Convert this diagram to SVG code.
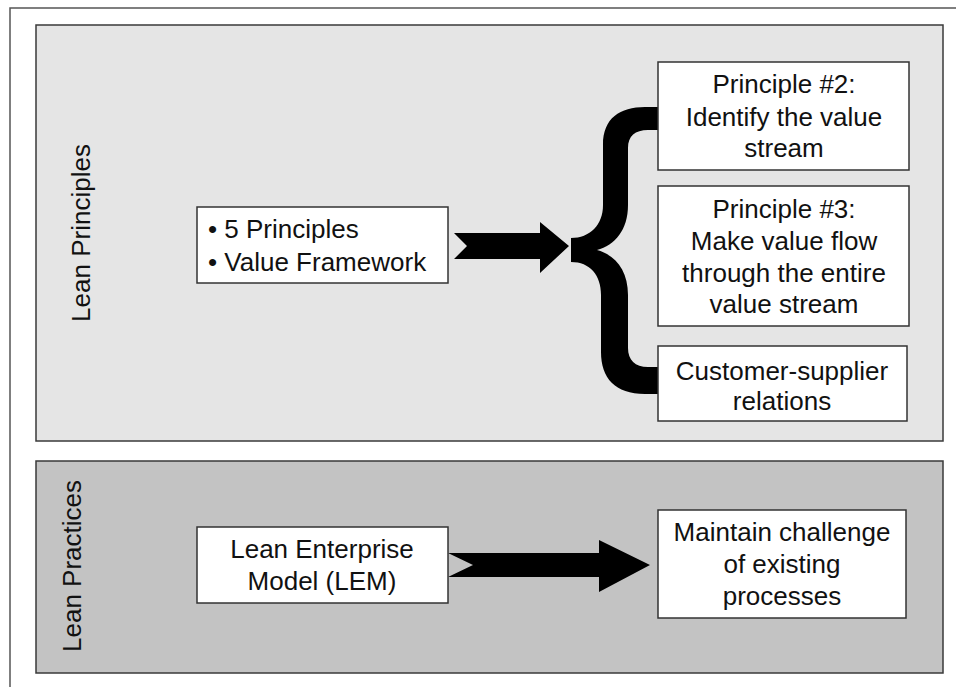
<svg xmlns="http://www.w3.org/2000/svg" width="956" height="687" viewBox="0 0 956 687">
  <style>
    .frame { fill: none; stroke: #555; stroke-width: 1.5; }
    .panel { stroke: #3a3a3a; stroke-width: 1.5; }
    .box { fill: #fff; stroke: #333; stroke-width: 1.5; }
    .lbl { font-family: "Liberation Sans", Arial, sans-serif; font-size: 26px; fill: #111; }
    .mid { text-anchor: middle; }
    .conn { fill: #000; stroke: none; }
  </style>
  <rect width="956" height="687" fill="#fff"/>
  <!-- page frame (top and left edges) -->
  <path class="frame" d="M10 690 L10 8 L960 8"/>

  <!-- bands -->
  <g id="band-principles">
    <rect class="panel" x="36" y="25" width="907" height="416" fill="#e5e5e5"/>
    <text class="lbl" transform="translate(90 233) rotate(-90)" text-anchor="middle">Lean Principles</text>
  </g>
  <g id="band-practices">
    <rect class="panel" x="36" y="461" width="907" height="212" fill="#c3c3c3"/>
    <text class="lbl" transform="translate(81 566) rotate(-90)" text-anchor="middle">Lean Practices</text>
  </g>

  <!-- connectors -->
  <g id="connectors">
    <!-- notched arrow into the brace -->
    <path class="conn" d="M454 233 L540 233 L540 222 L569 246 L540 273 L540 259 L454 259 L467 246 Z"/>
    <!-- curly brace fanning out to the three principles -->
    <path class="conn" d="M660 107 L645 107 C620 107 603 118 603 145 L603 205 C603 225 590 238 571 238 L571 262 C590 262 601 275 601 295 L601 352 C601 378 615 394 645 394 L660 394 L660 367 L648 367 C635 367 628 360 628 348 L628 295 C628 270 615 255 597 250 C615 245 628 230 628 205 L628 148 C628 136 635 130 648 130 L660 130 Z"/>
    <!-- notched arrow LEM to practice -->
    <path class="conn" d="M448 553 L599 553 L599 540 L650 565 L599 592 L599 577 L448 577 L473 565 Z"/>
  </g>

  <!-- nodes -->
  <g id="node-principles">
    <rect class="box" x="197" y="207" width="251" height="76"/>
    <text class="lbl" x="208" y="238">• 5 Principles</text>
    <text class="lbl" x="208" y="271">• Value Framework</text>
  </g>
  <g id="node-principle2">
    <rect class="box" x="658" y="62" width="251" height="108"/>
    <text class="lbl mid" x="784" y="93">Principle #2:</text>
    <text class="lbl mid" x="784" y="126">Identify the value</text>
    <text class="lbl mid" x="784" y="157">stream</text>
  </g>
  <g id="node-principle3">
    <rect class="box" x="658" y="186" width="251" height="140"/>
    <text class="lbl mid" x="784" y="218">Principle #3:</text>
    <text class="lbl mid" x="784" y="250">Make value flow</text>
    <text class="lbl mid" x="784" y="282">through the entire</text>
    <text class="lbl mid" x="784" y="313">value stream</text>
  </g>
  <g id="node-customer">
    <rect class="box" x="658" y="346" width="249" height="75"/>
    <text class="lbl mid" x="782" y="380">Customer-supplier</text>
    <text class="lbl mid" x="782" y="410">relations</text>
  </g>
  <g id="node-lem">
    <rect class="box" x="197" y="527" width="251" height="76"/>
    <text class="lbl mid" x="322" y="558">Lean Enterprise</text>
    <text class="lbl mid" x="322" y="590">Model (LEM)</text>
  </g>
  <g id="node-challenge">
    <rect class="box" x="658" y="510" width="248" height="108"/>
    <text class="lbl mid" x="782" y="541">Maintain challenge</text>
    <text class="lbl mid" x="782" y="573">of existing</text>
    <text class="lbl mid" x="782" y="605">processes</text>
  </g>
</svg>
